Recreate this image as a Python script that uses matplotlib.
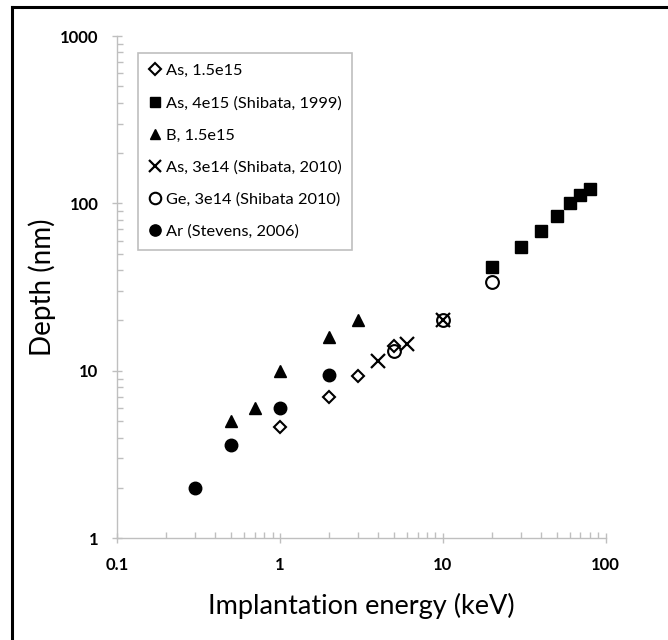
import matplotlib
matplotlib.use('Agg')
import matplotlib.pyplot as plt
from matplotlib.ticker import FixedLocator, LogLocator, NullFormatter, FuncFormatter
from matplotlib.lines import Line2D

# series (energy keV, depth nm)
as15_e = [1, 2, 3, 5]
as15_d = [4.65, 7.0, 9.3, 14.0]

as4_e = [20, 30, 40, 50, 60, 70, 80]
as4_d = [42, 55, 68, 84, 100, 113, 122]

b15_e = [0.5, 0.7, 1, 2, 3]
b15_d = [5.0, 6.0, 10.0, 16.0, 20.0]

as3_e = [4, 6, 10]
as3_d = [11.4, 14.4, 20.0]

ge3_e = [5, 10, 20]
ge3_d = [13.2, 20.0, 34.0]

ar_e = [0.3, 0.5, 1, 2]
ar_d = [2.0, 3.6, 6.0, 9.4]

labels = ["As, 1.5e15", "As, 4e15 (Shibata, 1999)", "B, 1.5e15",
          "As, 3e14 (Shibata, 2010)", "Ge, 3e14 (Shibata 2010)", "Ar (Stevens, 2006)"]

x_ticks = [0.1, 1, 10, 100]
y_ticks = [1, 10, 100, 1000]

plt.rcParams['font.family'] = ['Lato', 'DejaVu Sans']

fig = plt.figure(figsize=(6.68, 6.40), dpi=100)
ax = fig.add_axes([0.1756, 0.1589, 0.9067 - 0.1756, 0.9437 - 0.1589])

ax.plot(as15_e, as15_d, 'D', ms=6.6, mfc='white', mec='black', mew=1.5, ls='none', label=labels[0])
ax.plot(as4_e, as4_d, 's', ms=8.6, mfc='black', mec='black', ls='none', label=labels[1])
ax.plot(b15_e, b15_d, '^', ms=8.6, mfc='black', mec='black', ls='none', label=labels[2])
ax.plot(as3_e, as3_d, 'x', ms=9.5, mec='black', mew=1.6, ls='none', label=labels[3])
ax.plot(ge3_e, ge3_d, 'o', ms=9.2, mfc='none', mec='black', mew=1.5, ls='none', label=labels[4])
ax.plot(ar_e, ar_d, 'o', ms=9.0, mfc='black', mec='black', ls='none', label=labels[5])

ax.set_xscale('log')
ax.set_yscale('log')
ax.set_xlim(0.1, 100)
ax.set_ylim(1, 1000)

fmt = FuncFormatter(lambda v, p: f'{v:g}')
ax.xaxis.set_major_locator(FixedLocator(x_ticks))
ax.yaxis.set_major_locator(FixedLocator(y_ticks))
ax.xaxis.set_major_formatter(fmt)
ax.yaxis.set_major_formatter(fmt)
ax.xaxis.set_minor_locator(LogLocator(base=10, subs=range(2, 10)))
ax.yaxis.set_minor_locator(LogLocator(base=10, subs=range(2, 10)))
ax.xaxis.set_minor_formatter(NullFormatter())
ax.yaxis.set_minor_formatter(NullFormatter())

for s in ['top', 'right']:
    ax.spines[s].set_visible(False)
for s in ['left', 'bottom']:
    ax.spines[s].set_color('#bfbfbf')
    ax.spines[s].set_linewidth(1.0)

ax.tick_params(which='major', direction='inout', length=7, width=1, color='#bfbfbf',
               labelsize=12, pad=10)
ax.tick_params(which='minor', direction='in', length=4, width=1, color='#bfbfbf')
for t in ax.get_xticklabels() + ax.get_yticklabels():
    t.set_fontweight('bold')

ax.set_xlabel('Implantation energy (keV)', fontsize=19.5, labelpad=14)
ax.set_ylabel('Depth (nm)', fontsize=20, labelpad=3)

leg = ax.legend(loc='upper left', bbox_to_anchor=(0.0424, 0.966), borderaxespad=0,
                fancybox=False, edgecolor='#bfbfbf', framealpha=1, fontsize=11.8,
                handlelength=0.8, handletextpad=0.25, labelspacing=1.08, borderpad=0.65,
                markerscale=0.9)
leg.get_frame().set_linewidth(1.2)

# outer black frame of the picture
fig.add_artist(Line2D([12 / 668, 12 / 668], [0, 1 - 7 / 640], color='black', lw=2.2,
                      transform=fig.transFigure))
fig.add_artist(Line2D([12 / 668, 1], [1 - 7 / 640, 1 - 7 / 640], color='black', lw=2.2,
                      transform=fig.transFigure))

fig.savefig('out.png', dpi=100)
